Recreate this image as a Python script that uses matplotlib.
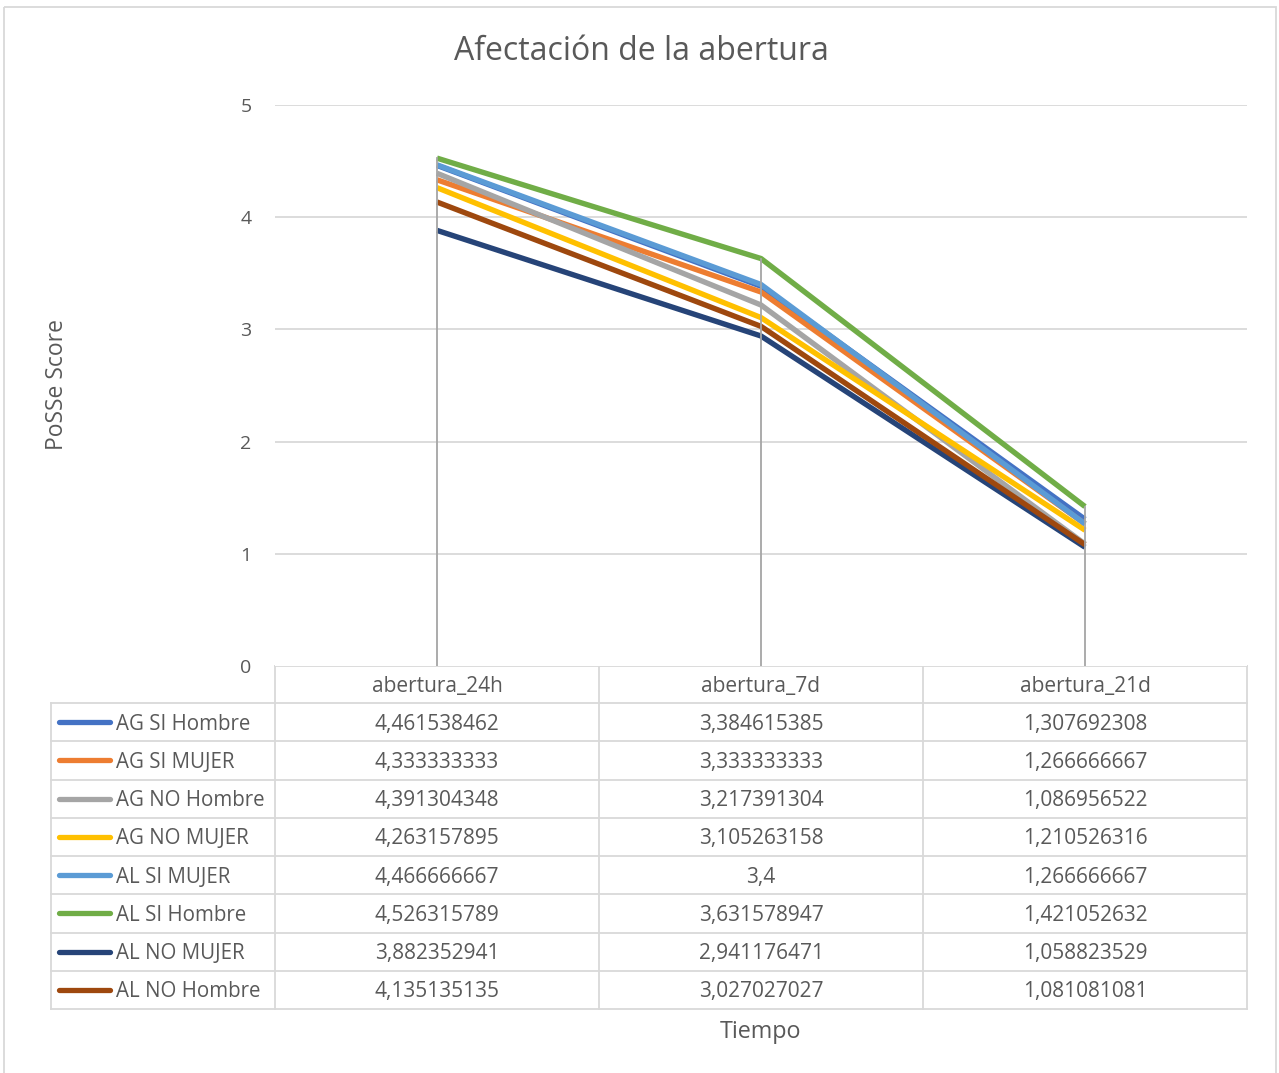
import matplotlib
matplotlib.use("Agg")
import matplotlib.pyplot as plt
from matplotlib.lines import Line2D
from matplotlib.patches import Rectangle

plt.rcParams['font.family'] = ['Open Sans', 'DejaVu Sans']

title = "Afectación de la abertura"
categories = ["abertura_24h", "abertura_7d", "abertura_21d"]
series_names = ["AG SI Hombre", "AG SI MUJER", "AG NO Hombre", "AG NO MUJER",
                "AL SI MUJER", "AL SI Hombre", "AL NO MUJER", "AL NO Hombre"]
ag_si_hombre = [4.461538462, 3.384615385, 1.307692308]
ag_si_mujer = [4.333333333, 3.333333333, 1.266666667]
ag_no_hombre = [4.391304348, 3.217391304, 1.086956522]
ag_no_mujer = [4.263157895, 3.105263158, 1.210526316]
al_si_mujer = [4.466666667, 3.4, 1.266666667]
al_si_hombre = [4.526315789, 3.631578947, 1.421052632]
al_no_mujer = [3.882352941, 2.941176471, 1.058823529]
al_no_hombre = [4.135135135, 3.027027027, 1.081081081]
series_values = [ag_si_hombre, ag_si_mujer, ag_no_hombre, ag_no_mujer,
                 al_si_mujer, al_si_hombre, al_no_mujer, al_no_hombre]
colors = ["#4472C4", "#ED7D31", "#A5A5A5", "#FFC000",
          "#5B9BD5", "#70AD47", "#264478", "#9E480E"]
yticks = [0, 1, 2, 3, 4, 5]

W, H = 1279, 1073
fig = plt.figure(figsize=(W / 100, H / 100), dpi=100)
TXT = "#595959"
GRID = "#D9D9D9"
FS = 15

# plot area in pixel coords
px_l, px_r, px_t, px_b = 275, 1247, 105, 666
ax = fig.add_axes([px_l / W, 1 - px_b / H, (px_r - px_l) / W, (px_b - px_t) / H])
ax.set_xlim(-0.5, len(categories) - 0.5)
ax.set_ylim(0, 5)
for s in ax.spines.values():
    s.set_visible(False)
ax.set_xticks([])
ax.set_yticks(yticks)
ax.set_yticklabels([str(t) for t in yticks], fontsize=14, color=TXT)
ax.tick_params(axis='y', length=0, pad=17)
for t in yticks[1:]:
    ax.axhline(t, color=GRID, lw=1.3, zorder=1)

xs = list(range(len(categories)))
for vals, c in zip(series_values, colors):
    ax.plot(xs, vals, color=c, lw=3.9, solid_capstyle='butt', zorder=3)

# drop lines
for i in xs:
    top = max(v[i] for v in series_values)
    ax.plot([i, i], [0, top], color="#A5A5A5", lw=1.3, zorder=4)

# overlay in pixel coordinates for data table
ov = fig.add_axes([0, 0, 1, 1], zorder=-1)
ov.set_xlim(0, W)
ov.set_ylim(H, 0)
ov.axis('off')
ov.patch.set_alpha(0)

ov.add_patch(Rectangle((4, 7), 1272, 1070, fill=False, ec=GRID, lw=1.3))
ov.text(641, 52, title, ha='center', va='center', fontsize=23, color=TXT)

col_x = [51, 275, 599, 923, 1247]
row_h = 38.25
header_top = 666
rows_top = 703
n = len(series_names)
lc = GRID
lw = 1.3
dy = 2
# header
ov.plot([275, 1247], [header_top, header_top], color=lc, lw=lw)
for x in col_x[1:]:
    ov.plot([x, x], [header_top, rows_top], color=lc, lw=lw)
for j, cat in enumerate(categories):
    ov.text((col_x[j + 1] + col_x[j + 2]) / 2, (header_top + rows_top) / 2 + dy, cat,
            ha='center', va='center', fontsize=FS, color=TXT)
# body
bottom = rows_top + n * row_h
for k in range(n + 1):
    y = rows_top + k * row_h
    ov.plot([51, 1247], [y, y], color=lc, lw=lw)
for x in col_x:
    ov.plot([x, x], [rows_top, bottom], color=lc, lw=lw)


def fmt(v):
    s = f"{v:.9f}".rstrip('0').rstrip('.')
    return s.replace('.', ',')


for k, (name, vals, c) in enumerate(zip(series_names, series_values, colors)):
    yc = rows_top + (k + 0.5) * row_h
    ov.add_line(Line2D([59, 110], [yc, yc], color=c, lw=3.8, solid_capstyle='round'))
    ov.text(116, yc + dy, name, ha='left', va='center', fontsize=14.8, color=TXT)
    for j, v in enumerate(vals):
        ov.text((col_x[j + 1] + col_x[j + 2]) / 2, yc + dy, fmt(v),
                ha='center', va='center', fontsize=FS, color=TXT)

ov.text(761, 1032, "Tiempo", ha='center', va='center', fontsize=16.8, color=TXT)
ov.text(57, 385, "PoSSe Score", ha='center', va='center', fontsize=16.5, color=TXT, rotation=90)

fig.savefig("out.png", dpi=100)
